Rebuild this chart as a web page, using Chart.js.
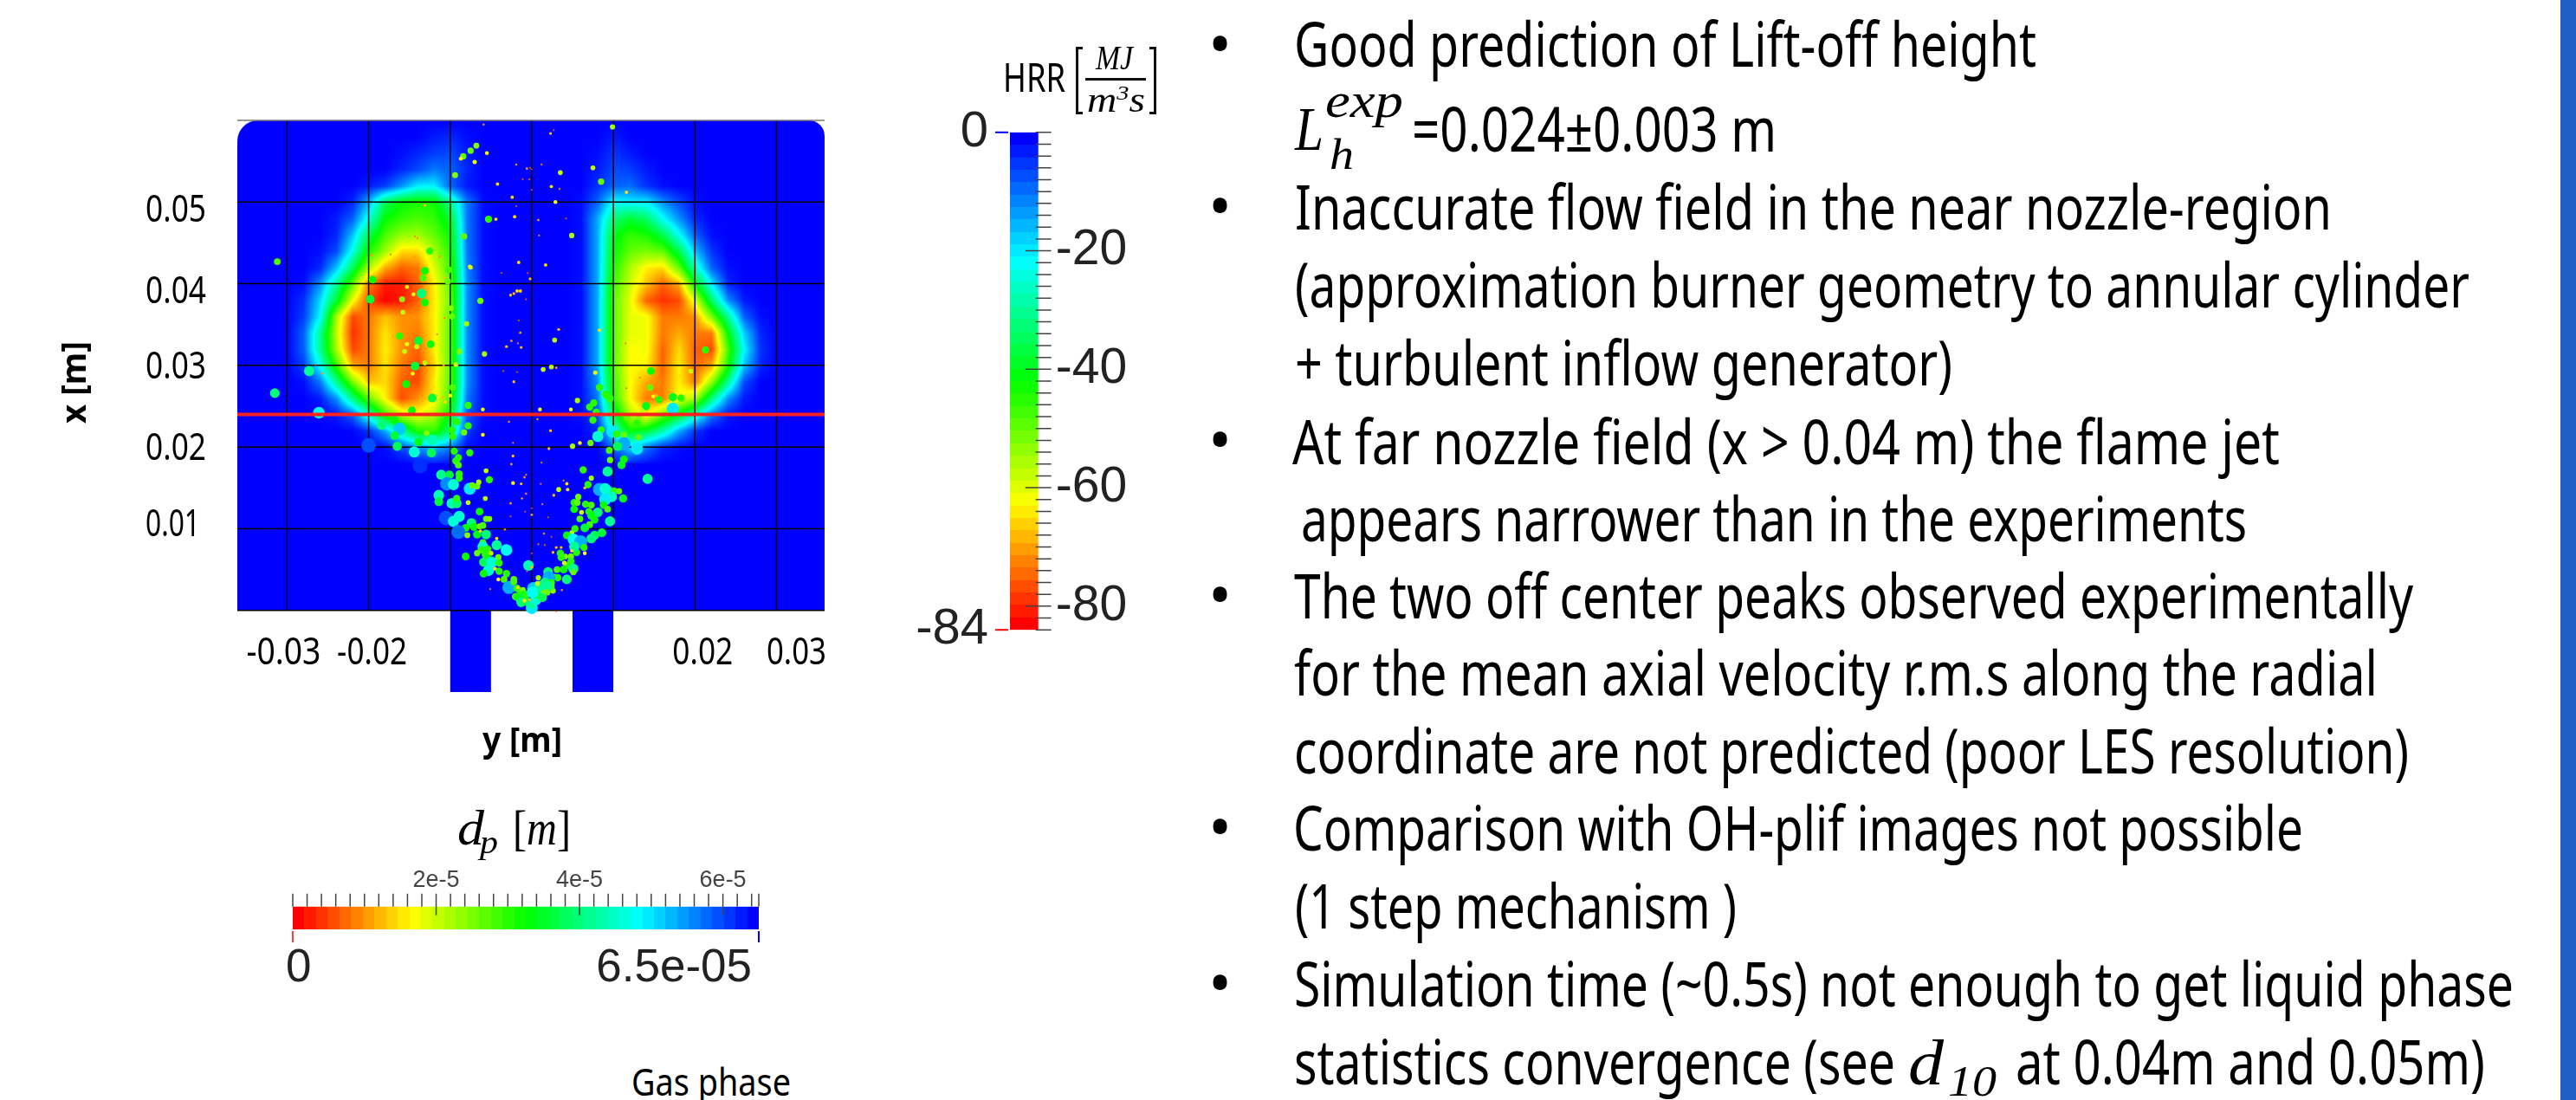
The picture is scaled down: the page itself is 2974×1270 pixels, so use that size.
<!DOCTYPE html>
<html>
<head>
<meta charset="utf-8">
<title>HRR and droplet field</title>
<script src="https://cdn.jsdelivr.net/npm/chart.js@4/dist/chart.umd.min.js"></script>
<style>
	html, body { margin: 0; width: 2974px; height: 1270px; background: #fff; overflow: hidden; }
	canvas { position: absolute; }
	.label { position: absolute; left: 0; top: 0; white-space: pre; transform-origin: 0 0; color: #000; font-family: "Noto Sans", sans-serif; }
	.math { font-family: "Liberation Serif", serif; font-style: italic; }
	.bold { font-weight: bold; }
	#strip { position: absolute; left: 2956px; top: 0; width: 18px; height: 1270px; background: #2060c4; }
	.frac { position: absolute; background: #111; }
	.bracket { position: absolute; border: 3px solid #111; width: 8px; box-sizing: border-box; }
</style>
</head>
<body>
<div id="strip"></div>
<canvas id="field" width="1100" height="900" style="left:0;top:0"></canvas>
<canvas id="hrrBar" width="300" height="694" style="left:1050px;top:93px"></canvas>
<canvas id="dpBar" width="660" height="170" style="left:280px;top:990px"></canvas>
<script>
// grid lines of the map, in metres
const radialTicks = [-0.03, -0.02, -0.01, 0, 0.01, 0.02, 0.03]
const radialLabels = [-0.03, -0.02, 0.02, 0.03]
const axialTicks = [0.01, 0.02, 0.03, 0.04, 0.05]
const liftOffHeight = 0.024
const burnerWalls = [[-0.01, -0.005], [0.005, 0.01]]
const burnerDepth = -0.01

// the slide's axis labels were placed by hand, so they sit a little off their grid lines
const radialLabelNudge = [-4, 4, 9, 23]
const radialLabelWidth = [86, 81, 70, 69]
const axialLabelNudge = [9, 15, 15, 22, 23]

// colour bar ticks
const hrrMajorTicks = [-20, -40, -60, -80]
const hrrEndTicks = [0, -84]
const dpMajorTicks = [2e-5, 4e-5, 6e-5]
const dpEndTicks = [0, 6.5e-5]

// HRR magnitude. rows go from x = 0.060 m down to 0.018 m in 0.002 m steps
// (below that the field is 0), columns from y = -0.036 m to 0.036 m in 0.002 m steps
const hrrRows = [
	[0,0,0,0,0,0,0,0,0,0,0,0,0,0,0,0,0,0, 0, 0,0,0,0,0,0,0,0,0,0,0,0,0,0,0,0,0,0],
	[0,0,0,0,0,0,0,0,0,0,0,0,2,3,1,0,0,0, 0, 0,0,0,0,2,0,0,0,0,0,0,0,0,0,0,0,0,0],
	[0,0,0,0,0,0,0,0,0,0,1,3,5,6,2,0,0,0, 0, 0,0,0,1,4,2,0,0,0,0,0,0,0,0,0,0,0,0],
	[0,0,0,0,0,0,0,0,0,0,3,6,10,8,3,0,0,0, 0, 0,0,0,2,6,5,2,0,0,0,0,0,0,0,0,0,0,0],
	[0,0,0,0,0,0,0,0,2,5,12,20,20,8,2,0,0,0, 0, 0,0,0,4,8,9,4,1,0,0,0,0,0,0,0,0,0,0],
	[0,0,0,0,0,0,0,3,15,35,42,44,43,30,10,1,0,0, 0, 0,0,1,8,22,20,20,12,6,1,0,0,0,0,0,0,0,0],
	[0,0,0,0,0,0,2,8,24,42,46,48,46,38,10,1,0,0, 0, 0,0,1,14,32,38,34,22,12,3,0,0,0,0,0,0,0,0],
	[0,0,0,0,0,0,3,16,36,48,54,55,50,42,10,1,0,0, 0, 0,0,1,14,40,46,44,36,22,8,1,0,0,0,0,0,0,0],
	[0,0,0,0,0,1,6,23,44,55,66,66,56,44,10,1,0,0, 0, 0,0,1,14,42,50,52,50,36,16,4,0,0,0,0,0,0,0],
	[0,0,0,0,0,3,16,35,56,70,76,74,60,47,11,1,0,0, 0, 0,0,1,14,44,56,64,66,50,26,8,1,0,0,0,0,0,0],
	[0,0,0,0,1,12,30,50,74,82,82,76,64,49,12,1,0,0, 0, 0,0,1,14,47,59,68,76,70,42,20,3,0,0,0,0,0,0],
	[0,0,0,0,4,18,38,62,78,84,82,76,64,51,12,1,0,0, 0, 0,0,1,14,49,61,76,80,78,60,34,12,2,0,0,0,0,0],
	[0,0,0,0,5,21,56,78,74,68,72,72,64,49,12,1,0,0, 0, 0,0,1,14,49,61,62,74,74,72,52,30,8,1,0,0,0,0],
	[0,0,0,0,8,30,58,80,74,65,72,74,64,49,12,1,0,0, 0, 0,0,1,14,49,61,62,74,70,74,74,42,17,3,0,0,0,0],
	[0,0,0,0,8,30,56,78,74,64,72,76,64,49,12,1,0,0, 0, 0,0,1,14,49,63,62,76,66,76,78,48,21,4,0,0,0,0],
	[0,0,0,0,5,22,46,70,74,65,74,78,66,49,12,1,0,0, 0, 0,0,1,14,49,63,64,76,64,76,70,44,16,3,0,0,0,0],
	[0,0,0,0,1,10,30,52,68,66,76,78,64,49,12,1,0,0, 0, 0,0,1,12,47,63,70,74,64,74,54,30,6,0,0,0,0,0],
	[0,0,0,0,0,2,12,32,50,64,78,72,64,47,10,1,0,0, 0, 0,0,1,10,45,63,74,74,62,56,32,12,2,0,0,0,0,0],
	[0,0,0,0,0,0,2,8,26,46,58,62,56,40,8,1,0,0, 0, 0,0,1,6,36,56,64,52,40,26,10,2,0,0,0,0,0,0],
	[0,0,0,0,0,0,0,0,4,14,30,44,46,32,5,0,0,0, 0, 0,0,0,3,24,42,38,28,14,4,0,0,0,0,0,0,0,0],
	[0,0,0,0,0,0,0,0,0,1,6,12,16,10,1,0,0,0, 0, 0,0,0,0,8,18,10,3,1,0,0,0,0,0,0,0,0,0],
	[0,0,0,0,0,0,0,0,0,0,0,1,2,1,0,0,0,0, 0, 0,0,0,0,1,2,1,0,0,0,0,0,0,0,0,0,0,0]
]
const hrrStep = 0.002
const hrrFirstColumn = -0.036
const hrrFirstRow = 0.06
const hrrMax = 84

// droplets as [y in mm, x in mm, diameter in micrometres]
const dropletsLeftLobe = [
	[-13.1,49.6,12],[-31.2,42.7,28],[-14.3,45.8,8],[-14,45.6,8],[-12.5,44,30],[-14.4,43.3,10],[-11.3,43.3,10],[-19.6,43.5,10],
	[-17.3,43.6,6],[-7.6,42.1,16],[-13.1,41.6,32],[-10.2,41.7,28],[-13.3,40.7,28],[-10.6,40.7,12],[-10.3,40.3,26],[-19.5,40.5,32],
	[-15.3,39.6,16],[-13.5,38.8,40],[-14.5,38.7,16],[-19.8,38.1,36],[-15.9,38.1,24],[-13.1,37.7,32],[-9.9,37,24],[-15.8,36.5,20],
	[-10.7,35.8,10],[-9.8,36,26],[-8,35.1,22],[-16.2,33.6,30],[-11.6,33.8,10],[-13.9,33,36],[-12.4,32.6,32],[-15.3,32.6,18],
	[-14.1,32.3,20],[-15.6,31.7,20],[-8.9,31.7,24],[-12.3,30.9,12],[-26.5,30.1,6],[-13.1,30.3,20],[-10.8,30,10],[-9.3,30.1,20],
	[-14.3,29.9,36],[-27.3,29.3,42],[-25.7,29,9],[-14.6,29,16],[-13.5,28,8],[-15.4,27.7,32],[-12,27.3,14],[-9.7,27.3,28],
	[-31.5,26.6,40],[-12.2,26,36],[-10.9,26.1,12],[-10,26.3,16],[-10.6,25.5,14],[-14.7,24.5,32],[-26.1,24.2,48],[-16.8,23.3,32],
	[-18.4,22.7,40],[-16.2,22.2,52],[-16.8,21.4,36],[-12.9,21.7,24],[-12.2,20.9,44],[-13.9,20.6,34],[-20,20.2,60],[-16.5,20.1,38],
	[-14.4,19.4,46],[-12.3,19.3,38],[-13.7,17.7,62]
]
const dropletsRightLobe = [
	[21.3,31.9,30],[14.6,29.3,32],[19.5,29.3,20],[18.2,28.7,14],[13.3,28.5,8],[8.3,27.3,30],[14.5,27.3,26],[11.6,27.2,6],
	[9,26.5,28],[14.9,26.2,16],[15.3,26.3,12],[15.6,25.8,30],[17.3,26.1,34],[18.3,26,30],[9.6,25.9,28],[14,25,34],
	[13.5,24.5,20],[17.3,24.7,50],[16.3,23.8,30],[11.7,23.6,26],[13.1,23.6,24],[12.9,22.9,30],[13.1,21.2,26],[10.7,20.1,36],
	[7.8,29.1,18],[8.3,34.3,14],[11.5,32.7,8],[11.6,51.2,14]
]
const dropletsCentre = [
	[-5.9,59.5,9],[9.9,59.2,22],[2.7,58.8,6],[2.3,58.4,12],[-6.8,56.9,24],[-7.5,56.3,26],[-5.5,56,16],[-8.4,55.6,26],
	[-8.7,55.3,16],[-7,54.9,18],[-9.4,53.3,24],[-1.9,54.6,9],[1.2,54.6,8],[-0.2,54.2,6],[-0.6,54.1,10],[0,54,4],
	[7.5,54.2,20],[3.5,53.6,20],[8.5,52.5,26],[-1.1,52.8,6],[-0.3,52.8,6],[-4.2,52.2,14],[2.4,51.9,14],[3.4,51.6,8],
	[0,51.5,6],[-2.4,50.6,14],[2.9,50,16],[-1.9,49.5,6],[-5.3,47.9,30],[-4.4,47.9,14],[-2.1,48.2,14],[0.8,47.8,10],
	[4.2,48,6],[0.9,45.9,8],[4.9,45.9,22],[-8.3,45.8,26],[-1.6,42.6,14],[1.7,42.3,14],[-7.5,42,18],[-3.7,41.3,6],
	[-0.5,41.3,6],[-0.2,40.6,12],[-1.4,39.1,14],[-1.8,39.1,14],[-2.2,38.8,12],[-2.6,38.6,12],[-0.7,38.1,6],[-6.3,37.9,26],
	[-1.6,35.5,6],[-1.4,34,10],[3.3,34.4,12],[2.8,33.1,20],[-2.5,33,10],[-1.7,32.7,8],[-3.1,32.3,12],[-1.3,32.2,12],
	[-5.8,31.4,22],[1.4,29.5,20],[2.4,29.8,20],[3,29.7,10],[-3.5,29.3,6],[-1.8,29.2,5],[-2.2,28,12]
]
const dropletsSprayUpper = [
	[-7.8,25.1,30],[-6,24.6,16],[1,24.6,16],[4.8,24.6,16],[5.6,25.7,22],[7.1,24.9,30],[7.6,25.4,30],[7.9,24.3,30],
	[7.5,23.3,30],[9.1,26.4,30],[9.6,26,30],[-9.2,23.1,30],[-7.8,22.6,30],[-9.8,22.1,30],[-8.3,21.8,26],[-6,21.5,16],
	[-9.7,21.3,30],[-2.8,23.1,9],[0.7,23.4,9],[2.3,22,12],[-2.3,20.5,8],[2.1,19.8,12],[5,20.1,22],[5.9,20.5,16],
	[7.2,20.5,26],[8.5,22.1,30],[8.1,21.3,46],[9.9,21.9,50],[10.4,21.6,30],[11.3,21.5,26],[12.9,19.8,50],[11.3,20.4,54],
	[10.5,20.1,38],[9.5,19.6,28],[9.6,18.4,26],[11.3,18.5,32],[11,17.8,34],[9.3,17,42],[6.3,17.2,30],[14.2,16.1,42],
	[-9.5,19.5,30],[-7.6,19.3,30],[-9,18.7,30],[-9.3,18.3,30],[-9,17.8,28],[-2.3,18.9,12],[-2.5,17.9,10],[1.2,18.1,8],
	[-5.6,17.1,20],[-8.9,16.7,30],[-8.9,16.2,30],[-11.1,16.6,42],[-10.1,16.6,36],[-5.2,16,30],[-10.4,15.5,56],[-9.6,15.4,46],
	[-7.6,14.9,50],[-7.3,15.3,26],[-6.7,15.2,26],[-6.5,15.7,22],[-2.3,15.6,16],[-1.3,15.5,12],[-0.9,16.3,10],[-0.7,16.6,8],
	[1.1,15.5,8],[3.9,15.9,8],[4.3,15.5,14],[3.3,14.8,20],[4.4,14.8,14],[6.5,15,12],[7.3,16.2,22],[6.9,15.4,30],
	[8.3,14.8,54],[9,14.9,46],[9.3,14.6,46],[10.1,14.6,30],[10.7,14.6,26],[9.8,13.9,44],[9,13.6,50],[11.2,13.7,34]
]
const dropletsSprayLower = [
	[-11.4,14.1,44],[-11.4,13.3,36],[-9.8,13.1,44],[-9.2,13.1,40],[-9.2,13.7,30],[-5.7,13.7,20],[-7.8,13.2,20],[-2.6,13.1,10],
	[-1.2,13.7,9],[-0.7,14.3,9],[2.7,14.1,12],[5.7,13.9,26],[5.2,13.2,30],[5.6,13.2,26],[5.2,12.4,32],[6.6,13,30],
	[7.3,12.9,28],[8.8,12.9,32],[9.3,12.4,28],[1.3,13,8],[0,12.5,5],[0,11.7,10],[-0.8,12.1,5],[2,11.4,6],
	[-2.6,11.5,6],[-6.4,12.1,32],[-10.5,11.3,60],[-9.6,10.9,46],[-8.9,11.5,46],[6.1,12,20],[7,12.1,30],[8.1,12,40],
	[7.3,11.6,34],[7.7,11.1,32],[5.9,11.2,28],[7.1,10.5,28],[9.6,10.9,42],[6.5,10.1,36],[5.3,10,30],[4.9,9.5,20],
	[4.3,9.2,32],[-7.4,10.7,40],[-7.1,10.2,32],[-8.1,10.1,32],[-6.4,10.3,24],[-6,10.4,28],[-5.6,11.2,26],[-5.2,11.2,24],
	[-9,9.6,58],[-6.7,9.3,34],[-7.9,9.2,24],[-5.6,9.3,40],[-6.3,9.7,14],[-3.3,9.9,9],[8.6,9.5,36],[7.7,9.2,38],
	[7.3,8.8,40],[5.1,8.7,48],[6,8.4,54],[6.4,7.7,30],[5.5,7.1,30],[6.5,7,16],[5.2,7.8,42],[1.5,9.4,9],
	[2.4,9,6],[0.8,8.1,8],[1.6,8,7],[-6,8.3,28],[-4.3,8.8,14],[-4.3,8,42],[-3.1,7.4,48],[-6,7.8,44],
	[-6.2,7.4,30],[-5.4,7.5,30],[-6.7,7,26],[-5.7,6.8,30],[-5,7,20],[-5.4,6.4,32],[-4.1,6.5,26],[-8.1,6.6,32],
	[-5.9,5.9,38],[-4.9,5.9,46],[-4,5.8,30],[-5.3,4.9,46],[-5.9,4.5,32],[-4.5,5.1,16],[-4,4.8,30],[-3.1,4.5,30],
	[-4.1,3.8,16],[-3.4,3.8,28],[-2.2,3.8,28],[-2.8,2.8,54],[-5.1,2.6,8],[3,7.7,12],[3.6,7.7,12],[2.6,7.1,12],
	[4.1,6.6,24],[3.5,7,30],[4.9,7.3,14],[4.8,6.6,26],[3.6,6.5,30],[4.8,6,30],[4.5,5.5,30],[4,5.8,20],
	[5.1,5.1,42],[3.9,5,32],[3.1,5,28],[5.1,4.7,26],[2,4.7,40],[2.8,4.1,26],[4.3,3.8,40],[3.2,4,30],
	[-0.4,5.5,44],[0,7,6],[0,5.3,12],[-0.6,4.8,7],[2.1,4,54],[1.6,3.4,40],[2.4,3.4,30],[2.6,2.4,24],[3.7,2.5,9],[2.4,3,28]
]
const dropletsBase = [
	[0.8,4,22],[-1.8,2.7,30],[-2.2,3.5,28],[-2,1.7,30],[-1.7,2.8,14],[-1.4,2.2,30],[-1.1,2.5,24],[-0.9,1.9,36],
	[-1.6,1.5,34],[-1.3,1,40],[-0.6,1.1,36],[-0.9,1.2,16],[0,0.3,50],[-0.1,0.8,42],[0.5,1.3,46],[0.2,2.7,52],
	[0.8,2.4,44],[1.3,1.6,38],[1.5,2.4,24],[1,3,42],[1.9,3,42],[1.9,2.2,26],[0.5,2,36],[-0.3,1.3,12],
	[0.7,3.3,20],[-0.6,2,30],[3,-0.1,5],[0.1,2.2,48]
]
const droplets = [...dropletsLeftLobe, ...dropletsRightLobe, ...dropletsCentre, ...dropletsSprayUpper, ...dropletsSprayLower, ...dropletsBase]
const dpMaxMicrons = 65

const barFont = '"Liberation Sans", sans-serif'
const rainbowStops = [[0, 0, 255], [0, 255, 255], [0, 255, 0], [255, 255, 0], [255, 0, 0]]

// t = 0 is blue, t = 1 is red
function rainbow(t) {
	let pos = Math.min(Math.max(t, 0), 1) * (rainbowStops.length - 1)
	let i = Math.min(Math.floor(pos), rainbowStops.length - 2)
	let f = pos - i
	return rainbowStops[i].map((c, k) => Math.round(c + (rainbowStops[i + 1][k] - c) * f))
}

function hrrAt(y, x) {
	let col = (y - hrrFirstColumn) / hrrStep
	let row = (hrrFirstRow - x) / hrrStep
	if(row >= hrrRows.length - 1 || row < 0) return 0
	let c0 = Math.max(Math.min(Math.floor(col), 35), 0)
	let r0 = Math.floor(row)
	let fc = Math.min(Math.max(col - c0, 0), 1)
	let fr = row - r0
	let top = hrrRows[r0][c0] * (1 - fc) + hrrRows[r0][c0 + 1] * fc
	let bot = hrrRows[r0 + 1][c0] * (1 - fc) + hrrRows[r0 + 1][c0 + 1] * fc
	return top * (1 - fr) + bot * fr
}

function bandedGradient(ctx, x0, y0, x1, y1, bands) {
	let g = ctx.createLinearGradient(x0, y0, x1, y1)
	for(let i = 0; i < bands; i++) {
		let c = `rgb(${rainbow(i / (bands - 1)).join(",")})`
		g.addColorStop(i / bands, c)
		g.addColorStop((i + 1) / bands, c)
	}
	return g
}

// paints the HRR field, burner walls and grid under the droplets
const fieldPlugin = {
	id: "fieldPlugin",
	beforeDatasetsDraw(chart) {
		let { ctx, scales: { x: xs, y: ys }, chartArea: area } = chart
		let zero = ys.getPixelForValue(0)
		let w = Math.round(area.right - area.left)
		let h = Math.round(zero - area.top)
		let off = document.createElement("canvas")
		off.width = w
		off.height = h
		let octx = off.getContext("2d")
		let img = octx.createImageData(w, h)
		for(let py = 0; py < h; py++) {
			let xVal = ys.getValueForPixel(area.top + py)
			for(let px = 0; px < w; px++) {
				let c = rainbow(hrrAt(xs.getValueForPixel(area.left + px), xVal) / hrrMax)
				let o = (py * w + px) * 4
				img.data[o] = c[0]
				img.data[o + 1] = c[1]
				img.data[o + 2] = c[2]
				img.data[o + 3] = 255
			}
		}
		octx.putImageData(img, 0, 0)

		ctx.save()
		ctx.beginPath()
		ctx.roundRect(area.left, area.top, w, h, [24, 18, 0, 0])
		ctx.clip()
		ctx.drawImage(off, area.left, area.top)
		ctx.restore()

		ctx.save()
		ctx.fillStyle = "#0000ff"
		for(let wall of burnerWalls) {
			let l = xs.getPixelForValue(wall[0])
			let r = xs.getPixelForValue(wall[1])
			ctx.fillRect(l, zero, r - l, ys.getPixelForValue(burnerDepth) - zero)
		}
		ctx.strokeStyle = "#000"
		ctx.lineWidth = 1.5
		ctx.beginPath()
		for(let t of xs.ticks) {
			let p = xs.getPixelForValue(t.value)
			ctx.moveTo(p, area.top)
			ctx.lineTo(p, zero)
		}
		for(let v of [0, ...axialTicks]) {
			let p = ys.getPixelForValue(v)
			ctx.moveTo(area.left, p)
			ctx.lineTo(area.right, p)
		}
		ctx.stroke()
		ctx.strokeStyle = "#777"
		ctx.beginPath()
		ctx.moveTo(area.left, area.top)
		ctx.lineTo(area.right, area.top)
		ctx.stroke()
		ctx.restore()
	}
}

let fieldChart = new Chart(document.getElementById("field"), {
	type: "scatter",
	data: {
		datasets: [{
			label: "Lift-off height",
			type: "line",
			data: [{ x: -0.0361, y: liftOffHeight }, { x: 0.0359, y: liftOffHeight }],
			borderColor: "#ff2020",
			borderWidth: 4,
			pointRadius: 0,
			order: 0
		}, {
			label: "Droplets",
			data: droplets.map(d => ({ x: d[0] / 1000, y: d[1] / 1000, d: d[2] })),
			pointRadius: c => Math.max(c.raw.d * 0.14, 1),
			pointBorderWidth: 0,
			pointBackgroundColor: c => `rgb(${rainbow(1 - c.raw.d / dpMaxMicrons).join(",")})`,
			order: 1
		}]
	},
	options: {
		responsive: false,
		animation: false,
		devicePixelRatio: 1,
		layout: { padding: { left: 60, top: 139, right: 148, bottom: 101 } },
		plugins: { legend: { display: false }, tooltip: { enabled: false } },
		scales: {
			x: {
				type: "linear",
				position: { y: 0 },
				min: -0.0361,
				max: 0.0359,
				afterBuildTicks: s => { s.ticks = radialTicks.map(v => ({ value: v })) },
				grid: { display: false, drawTicks: false },
				border: { display: false },
				ticks: { display: false, autoSkip: false }
			},
			y: {
				type: "linear",
				min: burnerDepth,
				max: 0.06,
				afterBuildTicks: s => { s.ticks = axialTicks.map(v => ({ value: v })) },
				afterFit: s => { s.width = 214 },
				grid: { display: false, drawTicks: false },
				border: { display: false },
				ticks: { display: false, autoSkip: false }
			}
		}
	},
	plugins: [fieldPlugin]
})

const hrrTickPlugin = {
	id: "hrrTickPlugin",
	afterDatasetsDraw(chart) {
		let { ctx, chartArea: area } = chart
		let s = chart.scales.hrrRight
		ctx.save()
		ctx.strokeStyle = "#444"
		ctx.lineWidth = 1.5
		ctx.beginPath()
		for(let t of s.ticks) {
			let p = s.getPixelForValue(t.value)
			ctx.moveTo(area.right + (hrrMajorTicks.includes(t.value) ? -15 : -3), p)
			ctx.lineTo(area.right + 15, p)
		}
		ctx.stroke()
		ctx.lineWidth = 2
		ctx.strokeStyle = "#0000ff"
		ctx.beginPath()
		ctx.moveTo(area.left - 17, s.getPixelForValue(0))
		ctx.lineTo(area.left - 2, s.getPixelForValue(0))
		ctx.stroke()
		ctx.strokeStyle = "#ff0000"
		ctx.beginPath()
		ctx.moveTo(area.left - 17, s.getPixelForValue(-84))
		ctx.lineTo(area.left - 2, s.getPixelForValue(-84))
		ctx.stroke()
		ctx.restore()
	}
}

let hrrMinorTicks = []
for(let v = 0; v >= -84; v -= 2) hrrMinorTicks.push(v)

new Chart(document.getElementById("hrrBar"), {
	type: "bar",
	data: {
		labels: ["HRR"],
		datasets: [{
			data: [[-84, 0]],
			yAxisID: "hrrRight",
			barPercentage: 1,
			categoryPercentage: 1,
			backgroundColor: c => {
				let a = c.chart.chartArea
				if(!a) return "#000"
				return bandedGradient(c.chart.ctx, 0, a.top, 0, a.bottom, 40)
			}
		}]
	},
	options: {
		responsive: false,
		animation: false,
		devicePixelRatio: 1,
		plugins: { legend: { display: false }, tooltip: { enabled: false } },
		scales: {
			x: { display: false },
			hrrLeft: {
				type: "linear",
				position: "left",
				min: -84,
				max: 0,
				afterBuildTicks: s => { s.ticks = hrrEndTicks.map(v => ({ value: v })) },
				afterFit: s => { s.width = 116 },
				grid: { display: false, drawTicks: false },
				border: { display: false },
				ticks: { padding: 25, color: "#222", font: { family: barFont, size: 58 }, autoSkip: false }
			},
			hrrRight: {
				type: "linear",
				position: "right",
				min: -84,
				max: 0,
				afterBuildTicks: s => { s.ticks = hrrMinorTicks.map(v => ({ value: v })) },
				afterFit: s => { s.width = 151.3 },
				grid: { display: false, drawTicks: false },
				border: { display: false },
				ticks: {
					padding: 20,
					color: "#222",
					font: { family: barFont, size: 57 },
					autoSkip: false,
					callback: v => hrrMajorTicks.includes(v) ? String(v) : ""
				}
			}
		}
	},
	plugins: [hrrTickPlugin]
})

const dpMinorStep = 2e-6
const dpTickPlugin = {
	id: "dpTickPlugin",
	afterDatasetsDraw(chart) {
		let { ctx, chartArea: area } = chart
		let s = chart.scales.dpBottom
		ctx.save()
		ctx.strokeStyle = "#444"
		ctx.lineWidth = 1.5
		ctx.beginPath()
		for(let i = 0; i <= 32; i++) {
			let p = s.getPixelForValue(i * dpMinorStep)
			ctx.moveTo(p, area.top - 15)
			ctx.lineTo(p, area.top)
		}
		for(let v of dpMajorTicks) {
			let p = s.getPixelForValue(v)
			ctx.moveTo(p, area.top - 15)
			ctx.lineTo(p, area.top + 10)
		}
		ctx.moveTo(area.right, area.top - 15)
		ctx.lineTo(area.right, area.top)
		ctx.stroke()
		ctx.lineWidth = 2
		ctx.strokeStyle = "#ff4040"
		ctx.beginPath()
		ctx.moveTo(area.left, area.bottom + 2)
		ctx.lineTo(area.left, area.bottom + 15)
		ctx.stroke()
		ctx.strokeStyle = "#0000ff"
		ctx.beginPath()
		ctx.moveTo(area.right, area.bottom + 2)
		ctx.lineTo(area.right, area.bottom + 15)
		ctx.stroke()
		ctx.restore()
	}
}

new Chart(document.getElementById("dpBar"), {
	type: "bar",
	data: {
		labels: ["dp"],
		datasets: [{
			data: [dpEndTicks],
			xAxisID: "dpBottom",
			barPercentage: 1,
			categoryPercentage: 1,
			backgroundColor: c => {
				let a = c.chart.chartArea
				if(!a) return "#000"
				return bandedGradient(c.chart.ctx, a.right, 0, a.left, 0, 40)
			}
		}]
	},
	options: {
		responsive: false,
		animation: false,
		devicePixelRatio: 1,
		indexAxis: "y",
		layout: { autoPadding: false, padding: { left: 58, right: 64 } },
		plugins: { legend: { display: false }, tooltip: { enabled: false } },
		scales: {
			y: { display: false },
			dpTop: {
				type: "linear",
				position: "top",
				min: 0,
				max: 6.5e-5,
				afterBuildTicks: s => { s.ticks = dpMajorTicks.map(v => ({ value: v })) },
				afterFit: s => { s.height = 56.7 },
				grid: { display: false, drawTicks: false },
				border: { display: false },
				ticks: {
					padding: 14,
					color: "#444",
					maxRotation: 0,
					autoSkip: false,
					font: { family: barFont, size: 27 },
					callback: v => `${Math.round(v * 1e5)}e-5`
				}
			},
			dpBottom: {
				type: "linear",
				position: "bottom",
				min: 0,
				max: 6.5e-5,
				afterBuildTicks: s => { s.ticks = dpEndTicks.map(v => ({ value: v })) },
				afterFit: s => { s.height = 87 },
				grid: { display: false, drawTicks: false },
				border: { display: false },
				ticks: {
					padding: 14,
					align: "inner",
					labelOffset: -8,
					color: "#222",
					maxRotation: 0,
					autoSkip: false,
					font: { family: barFont, size: 53 },
					callback: v => v === 0 ? "0" : "6.5e-05"
				}
			}
		}
	},
	plugins: [dpTickPlugin]
})

// text blocks of the slide: html, left, baseline, font size, target width
function place(html, left, baseline, size, width, cls) {
	let el = document.createElement("div")
	el.className = "label" + (cls ? " " + cls : "")
	el.innerHTML = html
	el.style.fontSize = size + "px"
	document.body.appendChild(el)
	let strut = document.createElement("span")
	strut.style.display = "inline-block"
	el.appendChild(strut)
	let b = strut.getBoundingClientRect().bottom
	el.removeChild(strut)
	let k = width ? width / el.getBoundingClientRect().width : 1
	el.style.transform = `translate(${left}px, ${baseline - b}px) scaleX(${k})`
	return { el, b, k }
}

const bodyLines = [
	["Good prediction of Lift-off height", 1494, 77, 857],
	["=0.024±0.003 m", 1630, 175, 421],
	["Inaccurate flow field in the near nozzle-region", 1495, 265, 1197],
	["(approximation burner geometry to annular cylinder", 1495, 355, 1356],
	["+ turbulent inflow generator)", 1495, 445, 759],
	["At far nozzle field (x &gt; 0.04 m) the flame jet", 1492, 535.6, 1140],
	["appears narrower than in the experiments", 1502, 625, 1092],
	["The two off center peaks observed experimentally", 1494, 713.6, 1292],
	["for the mean axial velocity r.m.s along the radial", 1494, 803.4, 1251],
	["coordinate are not predicted (poor LES resolution)", 1494, 893, 1287],
	["Comparison with OH-plif images not possible", 1493, 982, 1166],
	["(1 step mechanism )", 1495, 1072, 510],
	["Simulation time (~0.5s) not enough to get liquid phase", 1494, 1162, 1408],
	["statistics convergence (see", 1494, 1251.6, 694],
	["at 0.04m and 0.05m)", 2327, 1251.6, 542]
]
for(let line of bodyLines) place(line[0], line[1], line[2], 72, line[3])

const bulletBaselines = [75.5, 263, 532.6, 711.6, 980, 1160]
for(let b of bulletBaselines) place("•", 1395, b, 72)

place("L", 1495, 173, 72, 33, "math")
place("exp", 1530, 135, 58, 90, "math")
place("h", 1535, 195, 50, 28, "math")
place("d", 2203, 1251.6, 75, 41, "math")
place("10", 2249, 1265, 50, 56, "math")
place("d", 528, 975, 58, 31, "math")
place("p", 554, 985, 38, 21, "math")
place("<span style=\"font-style:normal\">[</span>m<span style=\"font-style:normal\">]</span>", 592, 975, 56, 67, "math")

place("HRR", 1158, 105.5, 46, 72)
place("MJ", 1265, 79.5, 40, 43, "math")
place("m<sup style=\"font-size:24px;line-height:0\">3</sup>s", 1255, 129, 40, 67, "math")
place("Gas phase", 729, 1265, 44, 184)

// map axis labels take their position from the chart's scales
radialLabels.forEach((v, i) => {
	let w = radialLabelWidth[i]
	let left = fieldChart.scales.x.getPixelForValue(v) + radialLabelNudge[i] - w / 2
	place(v.toFixed(2), left, fieldChart.scales.y.getPixelForValue(0) + 62, 43, w)
})
axialTicks.forEach((v, i) => {
	place(v.toFixed(2), 168, fieldChart.scales.y.getPixelForValue(v) + axialLabelNudge[i], 43, v === 0.01 ? 63 : 70)
})
place("y [m]", 557, 868, 40, 92, "bold")
let xTitle = place("x [m]", 0, 0, 40, 95, "bold")
xTitle.el.style.transform = `translate(99px, 489px) rotate(-90deg) translate(0, ${-xTitle.b}px) scaleX(${xTitle.k})`

function fractionParts() {
	let bar = document.createElement("div")
	bar.className = "frac"
	bar.style.cssText = "left:1253px;top:90px;width:70px;height:2.5px"
	document.body.appendChild(bar)
	for(let side of ["left:1242px;border-right:none", "left:1327px;border-left:none"]) {
		let b = document.createElement("div")
		b.className = "bracket"
		b.style.cssText = side + ";top:54px;height:78px"
		document.body.appendChild(b)
	}
}
fractionParts()
</script>
</body>
</html>
